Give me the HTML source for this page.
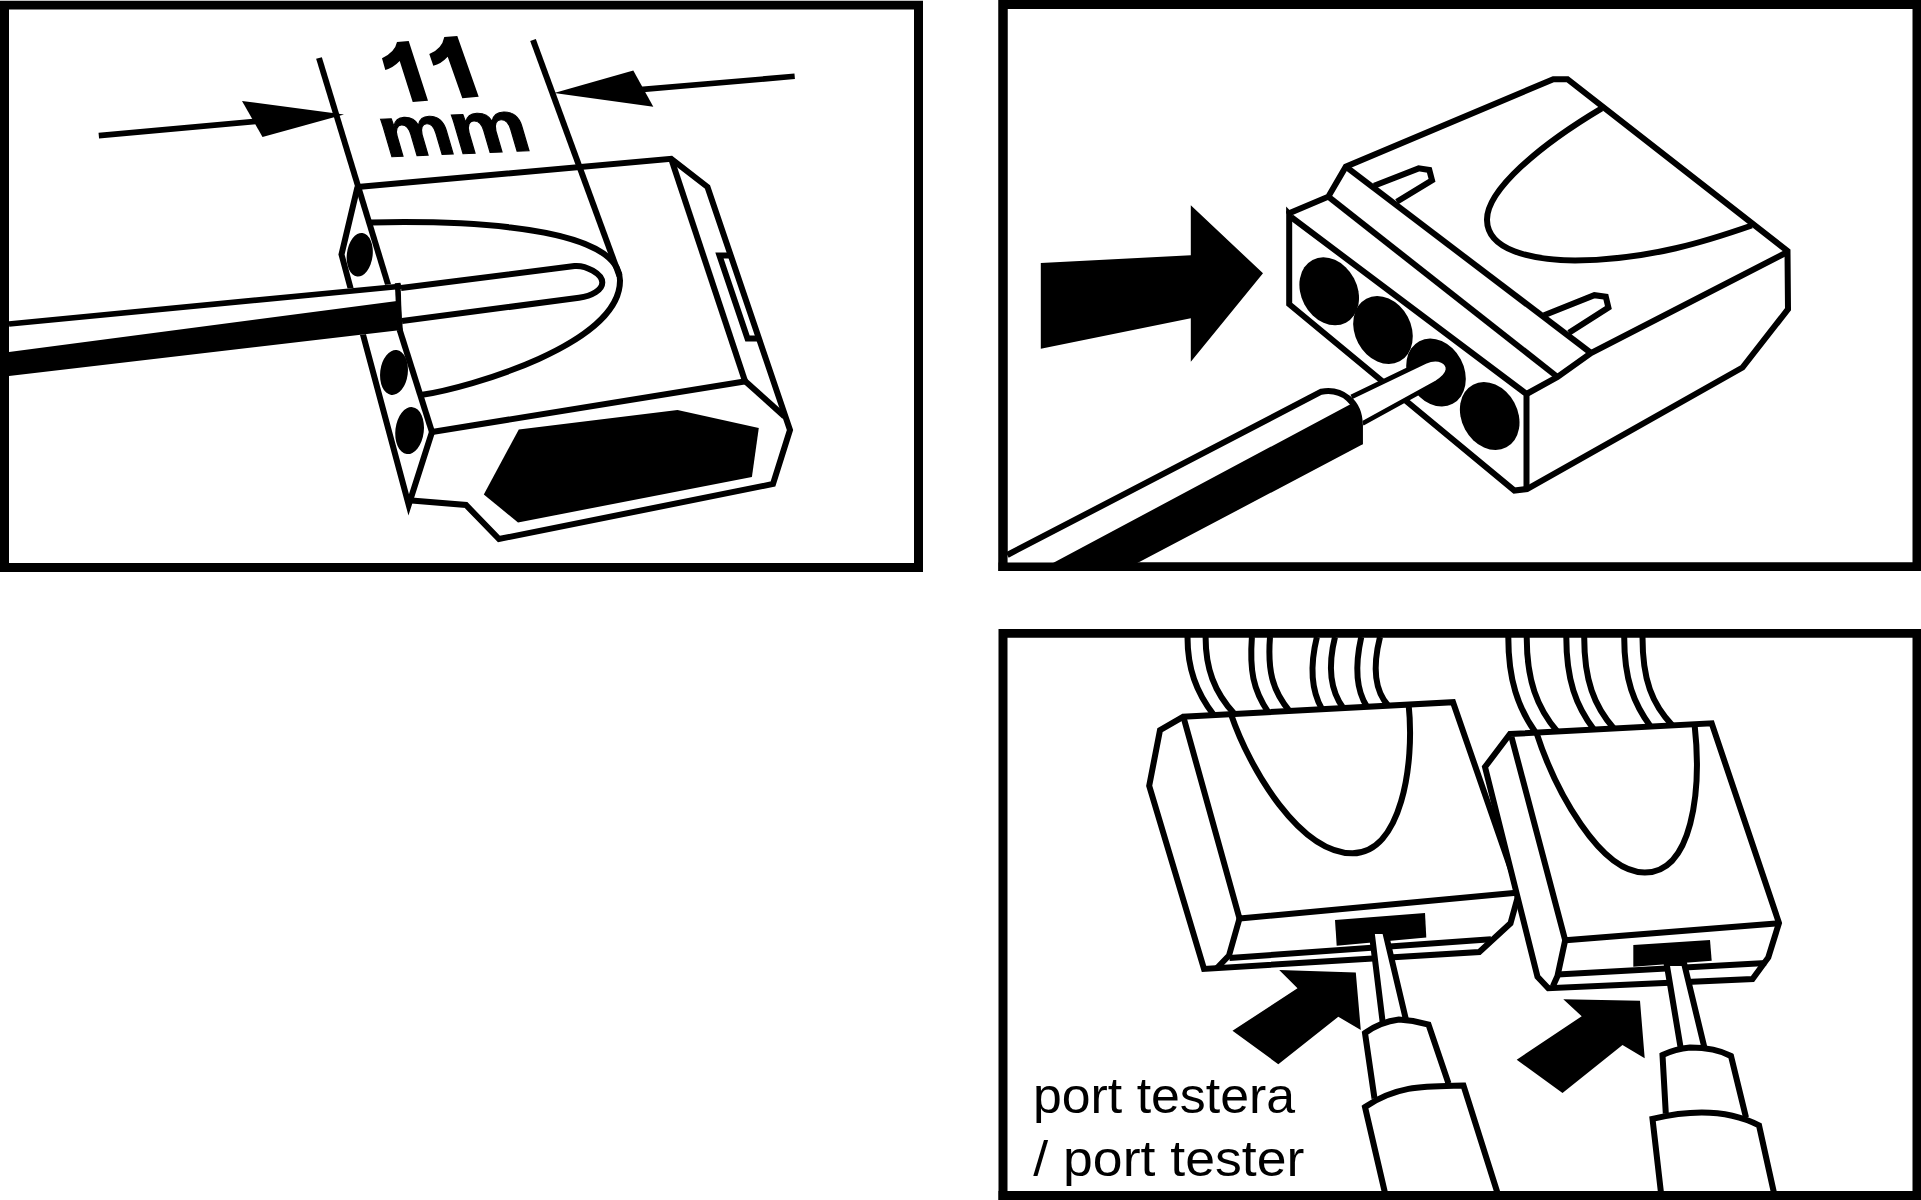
<!DOCTYPE html>
<html><head><meta charset="utf-8"><title>diagram</title>
<style>html,body{margin:0;padding:0;background:#fff;overflow:hidden}svg{display:block}</style>
</head><body><svg width="1921" height="1200" viewBox="0 0 1921 1200"><path d="M0,0.8H923V571.9H0Z M9,9.6V562.9H914V9.6Z" fill="#000" fill-rule="evenodd"/><path d="M998.5,0H1921V571H998.5Z M1007.5,9V562.5H1912.5V9Z" fill="#000" fill-rule="evenodd"/><path d="M998.5,629H1921V1200H998.5Z M1007.5,637.8V1191H1912.5V637.8Z" fill="#000" fill-rule="evenodd"/><g stroke-linejoin="miter" stroke-miterlimit="6"><polyline points="319.0,58.0 390.0,291.0" fill="none" stroke="#000" stroke-width="6.0" /><polyline points="397.8,324.0 432.0,432.0" fill="none" stroke="#000" stroke-width="6.0" /><polyline points="533.0,40.0 619.5,276.0" fill="none" stroke="#000" stroke-width="6.0" /><polyline points="98.8,135.6 258.0,121.2" fill="none" stroke="#000" stroke-width="5.6" /><polygon points="242.0,101.0 344.0,114.5 262.5,137.0" fill="#000"/><polyline points="794.7,76.3 640.0,89.6" fill="none" stroke="#000" stroke-width="5.6" /><polygon points="633.3,70.5 554.2,93.0 653.3,106.7" fill="#000"/><path d="M397,42 L408.7,41 L428,100.7 L412.7,102 L399.7,61 Q393.5,67.5 385.3,70 L382,58.3 Q395,52 397,42 Z" fill="#000"/><path d="M444.3,37 L457.3,35.9 L478.7,96.7 L462.3,98.3 L447.7,56.7 Q441,64 433.3,65.7 L429.3,54 Q442,49 444.3,37 Z" fill="#000"/><g font-family="Liberation Sans, sans-serif" font-weight="bold" fill="#000" stroke="#000" stroke-width="1.1"><text x="0" y="0" font-size="72" transform="translate(386.2,157) rotate(-2.6) skewX(13.7)" textLength="72" lengthAdjust="spacingAndGlyphs">m</text><text x="0" y="0" font-size="74" transform="translate(457,154) rotate(-2.6) skewX(13.7)" textLength="77.5" lengthAdjust="spacingAndGlyphs">m</text></g><polyline points="671.2,158.8 745.0,381.0" fill="none" stroke="#000" stroke-width="6.0" /><polyline points="357.5,187.0 671.2,158.8 707.5,187.0 790.0,430.0 773.0,484.0 499.0,539.0 466.0,505.0 411.5,500.5" fill="none" stroke="#000" stroke-width="6.0" /><polyline points="745.0,381.0 784.5,416.5" fill="none" stroke="#000" stroke-width="6.0" /><polyline points="731.0,255.6 719.5,255.6 747.5,338.4 757.0,338.4" fill="none" stroke="#000" stroke-width="6.0" /><polyline points="432.0,432.0 746.0,381.3" fill="none" stroke="#000" stroke-width="6.0" /><polyline points="357.5,187.0 341.5,254.5 408.7,504.9 432.0,432.0" fill="none" stroke="#000" stroke-width="6.0" /><polygon points="483.8,494.4 518.8,429.4 677.5,410.0 758.8,428.1 751.9,476.9 518.0,522.5" fill="#000"/><ellipse cx="359.75" cy="254.75" rx="12.9" ry="21.9" transform="rotate(7 359.75 254.75)" fill="#000"/><ellipse cx="394" cy="372.5" rx="13.8" ry="22.6" transform="rotate(7 394 372.5)" fill="#000"/><ellipse cx="409.6" cy="430.6" rx="14.2" ry="23.6" transform="rotate(7 409.6 430.6)" fill="#000"/><path d="M370,222.5 C404,221.8 620,216.2 620,280.5 C620.4,344 469.3,387.9 420.8,395" fill="none" stroke="#000" stroke-width="6.0" /><polygon points="9.0,321.0 399.0,283.5 399.0,330.2 9.0,376.0" fill="#fff"/><polyline points="9.0,324.0 401.0,286.2" fill="none" stroke="#000" stroke-width="5.6" /><polygon points="9.0,351.9 399.0,300.8 399.0,330.2 9.0,376.0" fill="#000"/><polyline points="397.6,283.0 400.0,330.5" fill="none" stroke="#000" stroke-width="5.6" /><path d="M401,288 L574.5,266 C586,265 602.3,274 602.3,282.5 C602.3,290 592,296 579,297.8 L402,321" fill="#fff" stroke="#000" stroke-width="6.0" /></g><g stroke-linejoin="miter" stroke-miterlimit="6"><polygon points="1040.8,263.0 1190.8,255.3 1190.8,205.3 1263.0,273.3 1190.8,361.7 1190.8,318.3 1040.8,348.8" fill="#000"/><polygon points="1289.2,304.2 1289.2,213.2 1328.3,196.7 1345.8,166.7 1553.3,79.2 1567.5,79.2 1787.5,251.0 1788.0,309.2 1742.5,367.5 1527.0,489.0 1514.4,490.6" fill="#fff" stroke="#000" stroke-width="6.0" /><polyline points="1291.0,217.0 1526.5,394.0 1526.5,489.0" fill="none" stroke="#000" stroke-width="6.0" /><polygon points="1286.1,206.5 1290.0,210.5 1286.1,214.0" fill="#000"/><polyline points="1787.5,252.0 1591.0,353.0 1557.5,377.0 1526.5,394.0" fill="none" stroke="#000" stroke-width="6.0" /><polyline points="1328.3,196.7 1557.5,377.0" fill="none" stroke="#000" stroke-width="6.0" /><polyline points="1345.8,166.7 1591.0,353.0" fill="none" stroke="#000" stroke-width="6.0" /><polyline points="1374.1,185.7 1418.7,168.4 1429.3,170.0 1432.0,180.3 1396.8,201.8" fill="none" stroke="#000" stroke-width="6.0" /><polyline points="1544.1,315.2 1594.4,295.2 1605.8,296.8 1608.4,307.6 1569.0,332.8" fill="none" stroke="#000" stroke-width="6.0" /><path d="M1601.7,108.3 C1540,145 1486.5,190 1487,220 C1487.5,250 1530,260 1575,260.5 C1650,260 1710,240 1751.7,225.5" fill="none" stroke="#000" stroke-width="6.0" /><ellipse cx="1329.2" cy="291.3" rx="28" ry="35.5" transform="rotate(-28 1329.2 291.3)" fill="#000"/><ellipse cx="1383" cy="330" rx="28" ry="35.5" transform="rotate(-28 1383 330)" fill="#000"/><ellipse cx="1436" cy="372.5" rx="28" ry="35.5" transform="rotate(-28 1436 372.5)" fill="#000"/><ellipse cx="1489.7" cy="416" rx="28" ry="35.5" transform="rotate(-28 1489.7 416)" fill="#000"/><path d="M1351.5,396.8 L1425,361.5 C1439,355.5 1449,362 1448,370 C1447,376 1441,380 1437,382.5 L1362.5,423.5" fill="#fff" stroke="#000" stroke-width="4.8" /><path d="M1007.3,555 L1321.3,391.7 C1342,388 1362.7,402 1362.7,425 L1362.7,444.3 L1137.4,563 L1007.3,563 Z" fill="#fff"/><path d="M1053,563 L1349.5,404.7 L1353,403 L1358,410 L1360.5,420 L1362.7,425 L1362.7,444.3 L1137.4,563 Z" fill="#000"/><path d="M1007.3,555 L1321.3,391.7 C1342,388 1359.8,402 1359.8,425 L1359.8,444.3" fill="none" stroke="#000" stroke-width="6.0" stroke-linecap="butt"/></g><g stroke-linejoin="miter" stroke-miterlimit="6"><path d="M1187.5,637 C1187.5,668 1196,692 1213.8999999999999,715.1314" fill="none" stroke="#000" stroke-width="6.0" /><path d="M1205.6,637 C1205.6,668 1214,692 1234.55,714.0163" fill="none" stroke="#000" stroke-width="6.0" /><path d="M1251.9,637 C1249.5,670 1253,690 1268.3,712.1938" fill="none" stroke="#000" stroke-width="6.0" /><path d="M1270,637 C1267.5,670 1272,690 1289.55,711.0463" fill="none" stroke="#000" stroke-width="6.0" /><path d="M1316.9,637 C1310,665 1311,690 1322.05,709.2913" fill="none" stroke="#000" stroke-width="6.0" /><path d="M1335,637 C1328,665 1330,690 1343.3,708.1437999999999" fill="none" stroke="#000" stroke-width="6.0" /><path d="M1361.25,637 C1355,665 1356,690 1367.05,706.8612999999999" fill="none" stroke="#000" stroke-width="6.0" /><path d="M1380,637 C1373,665 1374,690 1388.3,705.7138" fill="none" stroke="#000" stroke-width="6.0" /><polygon points="1183.0,716.8 1160.0,730.2 1149.2,785.8 1204.0,968.9 1479.3,952.0 1510.5,923.3 1519.0,892.5 1453.0,702.2" fill="none" stroke="#000" stroke-width="6.0" /><polyline points="1184.0,719.0 1239.5,918.5 1519.0,892.5" fill="none" stroke="#000" stroke-width="6.0" /><polyline points="1239.5,918.5 1229.0,955.5 1217.0,968.0" fill="none" stroke="#000" stroke-width="6.0" /><polyline points="1229.5,958.0 1491.0,939.3" fill="none" stroke="#000" stroke-width="6.0" /><path d="M1231,714.2 C1250,770 1300,853 1352.5,853.3 C1401,853 1415,765 1408.6,704.3" fill="none" stroke="#000" stroke-width="6.0" /><polygon points="1335.0,920.0 1425.0,913.0 1426.3,937.5 1336.7,945.8" fill="#000"/><polygon points="1510.0,734.0 1711.7,723.3 1779.0,923.0 1768.3,957.5 1752.5,979.0 1548.3,988.3 1537.5,976.7 1485.0,767.0" fill="#fff" stroke="#000" stroke-width="6.0" /><path d="M1508.3,637 C1508.3,680 1518,708 1535.8,732.8326000000001" fill="none" stroke="#000" stroke-width="6.0" /><path d="M1526.7,637 C1526.7,680 1537,708 1557.5,731.6825" fill="none" stroke="#000" stroke-width="6.0" /><path d="M1566.3,637 C1566.3,680 1576,706 1594.1,729.7427" fill="none" stroke="#000" stroke-width="6.0" /><path d="M1584.2,637 C1584.2,680 1594,706 1614.1,728.6827000000001" fill="none" stroke="#000" stroke-width="6.0" /><path d="M1624.2,637 C1624.2,680 1634,704 1650.8,726.7376" fill="none" stroke="#000" stroke-width="6.0" /><path d="M1642.5,637 C1642.5,680 1652,704 1672.5,725.5875000000001" fill="none" stroke="#000" stroke-width="6.0" /><polyline points="1511.5,737.0 1565.2,940.2 1779.0,923.2" fill="none" stroke="#000" stroke-width="6.0" /><polyline points="1565.2,940.2 1557.5,976.0 1553.0,986.0" fill="none" stroke="#000" stroke-width="6.0" /><polyline points="1557.5,974.5 1766.0,963.0" fill="none" stroke="#000" stroke-width="6.0" /><path d="M1536.5,732.8 C1555,790 1600,873 1645,872.5 C1692,872 1702,792 1694.6,724.6" fill="none" stroke="#000" stroke-width="6.0" /><polygon points="1633.3,945.0 1710.0,940.0 1711.7,960.8 1633.3,966.7" fill="#000"/><polygon points="1279.2,970.0 1355.8,972.5 1360.8,1030.0 1338.3,1016.7 1278.3,1064.2 1232.5,1030.8 1297.5,988.3" fill="#000"/><polygon points="1563.3,999.2 1640.0,1000.8 1644.7,1058.3 1622.5,1045.0 1562.5,1093.0 1516.7,1059.7 1581.7,1016.3" fill="#000"/><polygon points="1371.5,931.0 1383.0,1025.0 1406.5,1022.0 1385.0,931.0" fill="#fff" stroke="#000" stroke-width="6.0" /><path d="M1374.5,1098.5 L1365,1033 Q1380,1022 1399,1019.5 L1413,1021 L1428.5,1024.5 L1448.5,1083.5" fill="#fff" stroke="#000" stroke-width="6.0" /><path d="M1385,1193 L1365,1107 C1397.8,1084.6 1426.7,1086.3 1463.5,1085.5 L1497.5,1193" fill="#fff" stroke="#000" stroke-width="6.0" /><polygon points="1666.5,963.0 1681.0,1050.0 1705.0,1050.0 1684.0,963.0" fill="#fff" stroke="#000" stroke-width="6.0" /><path d="M1665.8,1113.5 L1662.5,1055 Q1675,1049 1690,1047.5 C1705,1047.5 1720,1050 1731,1056 L1746,1117.5" fill="#fff" stroke="#000" stroke-width="6.0" /><path d="M1661,1193 L1652.5,1118.8 C1687.6,1110.3 1726,1108.2 1759,1125.3 L1774,1193" fill="#fff" stroke="#000" stroke-width="6.0" /></g><g font-family="Liberation Sans, sans-serif" fill="#000" font-size="50"><text x="1033" y="1112.5" textLength="262" lengthAdjust="spacingAndGlyphs">port testera</text><text x="1033.3" y="1175.5" textLength="271" lengthAdjust="spacingAndGlyphs">/ port tester</text></g><path d="M998.5,1191H1921V1200H998.5Z" fill="#000"/><path d="M998.5,562.5H1921V571H998.5Z" fill="#000"/><path d="M998.5,0H1007.5V571H998.5Z" fill="#000"/></svg></body></html>
